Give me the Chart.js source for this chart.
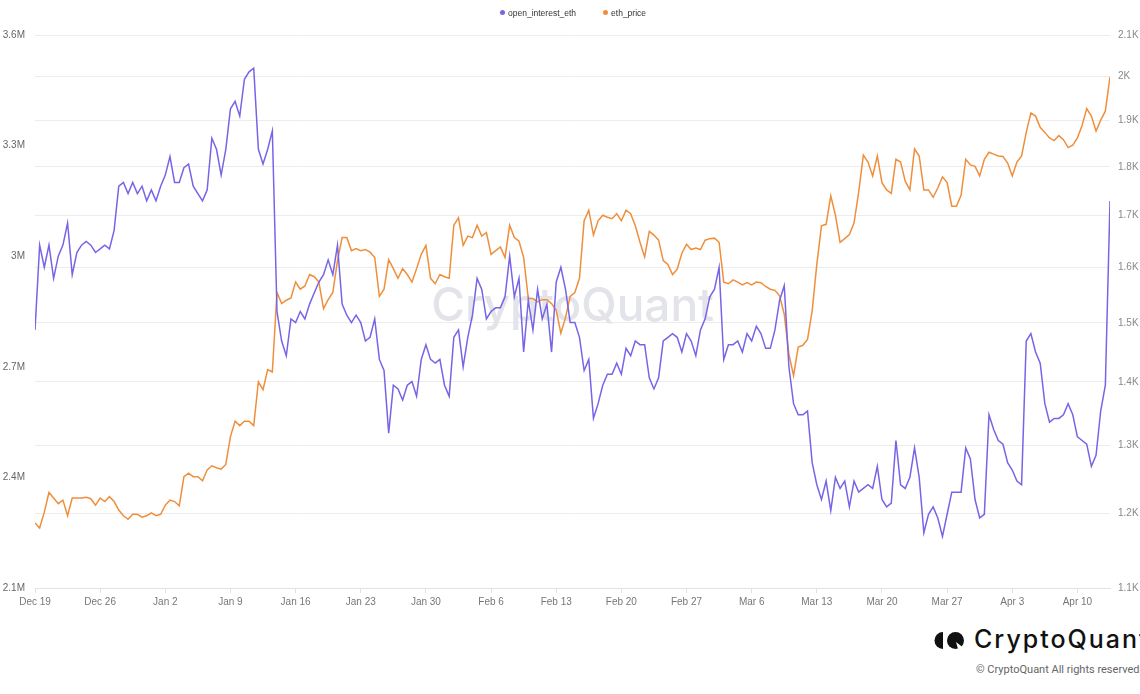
<!DOCTYPE html>
<html>
<head>
<meta charset="utf-8">
<script src="https://cdn.jsdelivr.net/npm/chart.js"></script>
<style>
  html, body { margin: 0; padding: 0; background: #fff; }
  body { width: 1140px; height: 694px; position: relative; overflow: hidden; font-family: "Liberation Sans", Arial, sans-serif; }
  #wrap { position: absolute; left: 0; top: 0; width: 1140px; height: 615px; }
  #legend { position: absolute; left: 500px; top: 7px; font-size: 8.5px; color: #333; line-height: 12px; white-space: nowrap; }
  #legend span.item { display: inline-block; margin-right: 27px; }
  #legend i { display: inline-block; width: 5px; height: 5px; border-radius: 50%; margin-right: 3px; vertical-align: 1px; }
  #brand { position: absolute; left: 929px; top: 627px; white-space: nowrap; }
  #brand svg { position: absolute; left: 0; top: 5px; }
  #brand .name { position: absolute; left: 45px; top: 0; font-family: Inter, sans-serif; font-weight: 500; font-size: 25px; letter-spacing: 2px; line-height: 24px; color: #111; }
  #copy { position: absolute; left: 976px; top: 663px; font-family: Roboto, sans-serif; font-size: 11px; color: #666; white-space: nowrap; }
</style>
</head>
<body>
<div id="wrap"><canvas id="chart" width="1140" height="615"></canvas></div>
<div id="legend">
  <span class="item"><i style="background:#7665e6"></i>open_interest_eth</span><span class="item"><i style="background:#ef8f3c"></i>eth_price</span>
</div>
<div id="brand">
  <svg width="36" height="17" viewBox="0 0 36 17">
    <path d="M14 0 A8.5 8.5 0 0 0 14 17 Z" fill="#111"/>
    <circle cx="26.5" cy="8.5" r="8.5" fill="#111"/>
    <path d="M27 10 L36 17 L29 17 Z" fill="#fff"/>
  </svg>
  <span class="name">CryptoQuant</span>
</div>
<div id="copy">© CryptoQuant All rights reserved</div>
<script>
// samples every half day starting Dec 19
const STEP = 0.5;

const tickDays = [0, 7, 14, 21, 28, 35, 42, 49, 56, 63, 70, 77, 84, 91, 98, 105, 112];
const tickLabels = ['Dec 19', 'Dec 26', 'Jan 2', 'Jan 9', 'Jan 16', 'Jan 23', 'Jan 30', 'Feb 6', 'Feb 13',
  'Feb 20', 'Feb 27', 'Mar 6', 'Mar 13', 'Mar 20', 'Mar 27', 'Apr 3', 'Apr 10'];

const oiTicks = [2.1, 2.4, 2.7, 3.0, 3.3, 3.6];            // millions
const priceTicks = [1100, 1200, 1300, 1400, 1500, 1600, 1700, 1800, 1900, 2000, 2100];

// open interest, millions of ETH
const openInterestM = [
  2.80, 3.03, 2.97, 3.03, 2.94, 3.00, 3.03, 3.09, 2.95, 3.01,
  3.03, 3.04, 3.03, 3.01, 3.02, 3.03, 3.02, 3.07, 3.19, 3.20,
  3.17, 3.20, 3.17, 3.19, 3.15, 3.18, 3.15, 3.19, 3.22, 3.27,
  3.20, 3.20, 3.24, 3.25, 3.19, 3.17, 3.15, 3.18, 3.32, 3.29,
  3.22, 3.29, 3.40, 3.42, 3.38, 3.48, 3.50, 3.51, 3.29, 3.25,
  3.29, 3.34, 2.85, 2.77, 2.73, 2.83, 2.82, 2.85, 2.83, 2.87,
  2.90, 2.93, 2.95, 2.99, 2.95, 3.03, 2.87, 2.84, 2.82, 2.84,
  2.82, 2.77, 2.78, 2.83, 2.72, 2.69, 2.52, 2.65, 2.64, 2.61,
  2.65, 2.66, 2.62, 2.72, 2.76, 2.72, 2.71, 2.72, 2.65, 2.62,
  2.78, 2.80, 2.70, 2.78, 2.84, 2.94, 2.91, 2.83, 2.85, 2.86,
  2.86, 2.89, 3.00, 2.89, 2.94, 2.74, 2.88, 2.80, 2.91, 2.83,
  2.87, 2.74, 2.93, 2.97, 2.91, 2.82, 2.82, 2.78, 2.69, 2.72,
  2.56, 2.60, 2.65, 2.68, 2.68, 2.71, 2.68, 2.75, 2.73, 2.77,
  2.76, 2.76, 2.67, 2.64, 2.67, 2.77, 2.78, 2.79, 2.78, 2.74,
  2.79, 2.77, 2.73, 2.80, 2.83, 2.89, 2.91, 2.97, 2.72, 2.76,
  2.76, 2.77, 2.74, 2.79, 2.77, 2.81, 2.79, 2.75, 2.75, 2.80,
  2.88, 2.92, 2.70, 2.60, 2.57, 2.57, 2.58, 2.44, 2.38, 2.34,
  2.39, 2.31, 2.40, 2.37, 2.39, 2.32, 2.39, 2.36, 2.37, 2.38,
  2.37, 2.43, 2.34, 2.32, 2.33, 2.50, 2.38, 2.37, 2.40, 2.48,
  2.40, 2.25, 2.30, 2.32, 2.29, 2.24, 2.30, 2.36, 2.36, 2.36,
  2.48, 2.45, 2.34, 2.29, 2.30, 2.57, 2.53, 2.50, 2.49, 2.44,
  2.42, 2.39, 2.38, 2.77, 2.79, 2.74, 2.71, 2.60, 2.55, 2.56,
  2.56, 2.57, 2.60, 2.57, 2.51, 2.50, 2.49, 2.43, 2.46, 2.58,
  2.65, 3.15
];

// ETH price, USD
const ethPrice = [
  1187, 1180, 1202, 1230, 1222, 1214, 1219, 1197, 1222, 1222,
  1222, 1223, 1221, 1212, 1222, 1217, 1224, 1217, 1205, 1197,
  1192, 1199, 1199, 1195, 1197, 1201, 1197, 1199, 1212, 1219,
  1217, 1211, 1253, 1258, 1253, 1253, 1247, 1263, 1269, 1266,
  1264, 1271, 1313, 1337, 1330, 1337, 1337, 1330, 1400, 1387,
  1420, 1416, 1554, 1534, 1540, 1544, 1573, 1560, 1566, 1587,
  1583, 1573, 1525, 1541, 1554, 1613, 1657, 1657, 1632, 1636,
  1632, 1634, 1629, 1619, 1547, 1560, 1615, 1598, 1580, 1598,
  1587, 1573, 1598, 1625, 1642, 1580, 1570, 1587, 1583, 1580,
  1681, 1696, 1642, 1660, 1657, 1681, 1660, 1667, 1625, 1632,
  1639, 1619, 1681, 1657, 1650, 1619, 1543, 1543, 1537, 1541,
  1541, 1534, 1522, 1482, 1509, 1547, 1554, 1580, 1690, 1711,
  1662, 1690, 1701, 1697, 1694, 1704, 1690, 1711, 1704, 1680,
  1648, 1620, 1669, 1662, 1652, 1613, 1606, 1587, 1597, 1627,
  1644, 1634, 1637, 1634, 1652, 1655, 1656, 1648, 1573, 1570,
  1577, 1573, 1568, 1572, 1568, 1573, 1572, 1565, 1560, 1558,
  1548, 1515, 1446, 1410, 1458, 1461, 1471, 1521, 1606, 1680,
  1683, 1740, 1701, 1648, 1655, 1663, 1686, 1748, 1825, 1810,
  1781, 1823, 1767, 1752, 1745, 1816, 1810, 1770, 1752, 1838,
  1823, 1752, 1752, 1737, 1756, 1779, 1767, 1719, 1719, 1741,
  1816, 1804, 1801, 1781, 1816, 1831, 1827, 1823, 1822, 1808,
  1781, 1810, 1823, 1874, 1917, 1910, 1885, 1874, 1862, 1856,
  1867, 1858, 1841, 1846, 1862, 1889, 1927, 1910, 1877, 1901,
  1921, 2000
];

const BLUE = '#7665e6';
const ORANGE = '#ef8f3c';

const toPoints = vals => vals.map((v, i) => ({ x: i * STEP, y: v }));

// faint brand name behind the lines
const watermark = {
  id: 'watermark',
  beforeDatasetsDraw(chart) {
    const { ctx, chartArea: a } = chart;
    ctx.save();
    ctx.font = '500 46px Inter';
    ctx.fillStyle = '#e3e4ea';
    ctx.textAlign = 'center';
    ctx.textBaseline = 'middle';
    ctx.fillText('CryptoQuant', (a.left + a.right) / 2, (a.top + a.bottom) / 2 - 4);
    ctx.restore();
  }
};

const tickFont = { family: '"Liberation Sans", Arial, sans-serif', size: 10 };

new Chart(document.getElementById('chart'), {
  type: 'line',
  data: {
    datasets: [
      {
        label: 'open_interest_eth',
        data: toPoints(openInterestM),
        yAxisID: 'yOI',
        borderColor: BLUE,
        backgroundColor: BLUE,
        borderWidth: 1.5
      },
      {
        label: 'eth_price',
        data: toPoints(ethPrice),
        yAxisID: 'yPrice',
        borderColor: ORANGE,
        backgroundColor: ORANGE,
        borderWidth: 1.5
      }
    ]
  },
  options: {
    responsive: false,
    animation: false,
    devicePixelRatio: 1,
    layout: { padding: { top: 35 } },
    elements: { point: { radius: 0 }, line: { tension: 0 } },
    plugins: {
      legend: { display: false },
      tooltip: { enabled: false }
    },
    scales: {
      x: {
        type: 'linear',
        min: 0,
        max: STEP * (openInterestM.length - 1),
        afterBuildTicks: axis => { axis.ticks = tickDays.map(v => ({ value: v })); },
        afterFit: axis => { axis.height = 27; },
        ticks: {
          autoSkip: false,
          maxRotation: 0,
          padding: 3,
          color: '#777',
          font: tickFont,
          callback: (value, index) => tickLabels[index]
        },
        grid: { drawOnChartArea: false, tickLength: 5, color: '#e2e2e2' },
        border: { color: '#e2e2e2' }
      },
      yOI: {
        position: 'left',
        min: 2.1,
        max: 3.6,
        afterBuildTicks: axis => { axis.ticks = oiTicks.map(v => ({ value: v })); },
        afterFit: axis => { axis.width = 35; },
        ticks: {
          padding: 10,
          color: '#666',
          font: tickFont,
          callback: v => `${+v.toFixed(1)}M`
        },
        grid: { display: false, drawTicks: false },
        border: { display: false }
      },
      yPrice: {
        type: 'logarithmic',
        position: 'right',
        min: 1100,
        max: 2100,
        afterBuildTicks: axis => { axis.ticks = priceTicks.map(v => ({ value: v })); },
        afterFit: axis => { axis.width = 30; },
        ticks: {
          padding: 8,
          color: '#888',
          font: tickFont,
          callback: v => `${+(v / 1000).toFixed(1)}K`
        },
        grid: { color: '#ececec', drawTicks: false },
        border: { display: false }
      }
    }
  },
  plugins: [watermark]
});
</script>
</body>
</html>
